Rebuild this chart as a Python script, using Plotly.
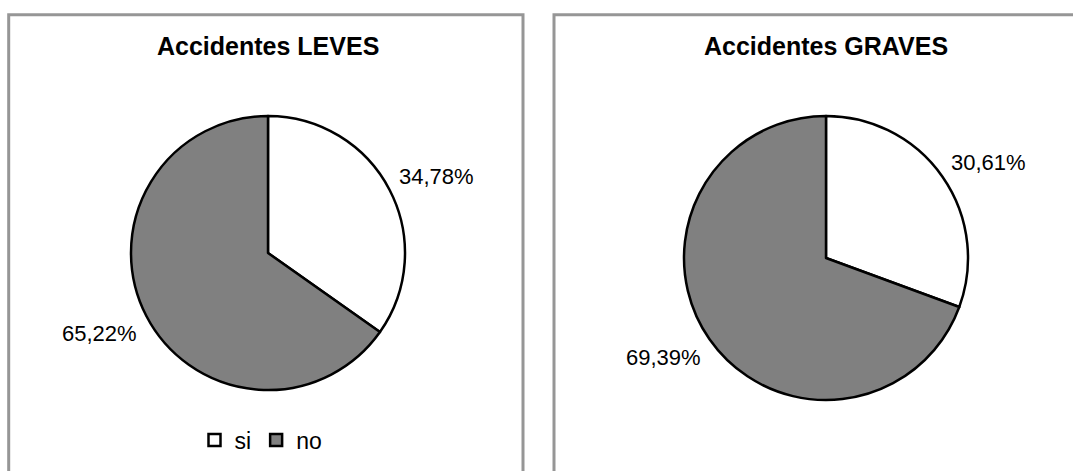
import math
import plotly.graph_objects as go

W, H = 1073, 471

labels = ["si", "no"]
leves_pct = [34.78, 65.22]
graves_pct = [30.61, 69.39]
titles = ["Accidentes LEVES", "Accidentes GRAVES"]
colors = ["#FFFFFF", "#808080"]

FONT = "Liberation Sans, Arial, sans-serif"


def px_x(v):
    return v / W


def px_y(v):
    return 1 - v / H


fig = go.Figure()

# pie geometry (pixel boxes)
boxes = [
    dict(x0=131, x1=405, y0=116, y1=390, legx=261, legy=440, leg="legend"),
    dict(x0=684, x1=968, y0=116, y1=400, legx=817, legy=431, leg="legend2"),
]

annotations = []
for vals, b, t in zip([leves_pct, graves_pct], boxes, titles):
    fig.add_trace(go.Pie(
        labels=labels,
        values=vals,
        sort=False,
        direction="clockwise",
        rotation=0,
        marker=dict(colors=colors, line=dict(color="#000000", width=2.5)),
        textinfo="none",
        domain=dict(x=[px_x(b["x0"]), px_x(b["x1"])], y=[px_y(b["y1"]), px_y(b["y0"])]),
        automargin=False,
        showlegend=True,
        legend=b["leg"],
        hoverinfo="label+percent",
    ))
    # outside percentage labels placed at each slice's mid-angle (Excel style)
    cx = (b["x0"] + b["x1"]) / 2
    cy = (b["y0"] + b["y1"]) / 2
    r = (b["x1"] - b["x0"]) / 2
    total = sum(vals)
    cum = 0.0
    for v in vals:
        mid = (cum + v / 2) / total * 2 * math.pi
        cum += v
        ux, uy = math.sin(mid), -math.cos(mid)
        d = r + 9
        ax = cx + ux * d
        ay = cy + uy * d
        txt = ("%.2f%%" % (v / total * 100)).replace(".", ",")
        annotations.append(dict(
            text=txt, x=px_x(ax), y=px_y(ay), xref="paper", yref="paper",
            xanchor="left" if ux >= 0 else "right",
            yanchor="bottom" if uy < 0 else "top",
            yshift=-4 if uy < 0 else 0,
            showarrow=False, borderpad=0,
            font=dict(family=FONT, size=22, color="#000000"),
        ))

for b, t in zip(boxes, titles):
    annotations.append(dict(
        text="<b>" + t + "</b>", x=px_x((b["x0"] + b["x1"]) / 2), y=px_y(46),
        xref="paper", yref="paper", xanchor="center", yanchor="middle",
        showarrow=False, font=dict(family=FONT, size=25, color="#000000"),
    ))

border = dict(color="#969696", width=3)
shapes = [
    dict(type="rect", xref="paper", yref="paper",
         x0=px_x(8.7), x1=px_x(523), y0=px_y(14.7), y1=-0.1, line=border),
    dict(type="rect", xref="paper", yref="paper",
         x0=px_x(554), x1=px_x(1090), y0=px_y(14.7), y1=-0.1, line=border),
]

leg_common = dict(orientation="h", xanchor="center", yanchor="middle",
                  font=dict(family=FONT, size=23, color="#000000"),
                  bgcolor="rgba(0,0,0,0)", itemwidth=30, tracegroupgap=0)

fig.update_layout(
    width=W, height=H,
    margin=dict(l=0, r=0, t=0, b=0),
    paper_bgcolor="#FFFFFF",
    plot_bgcolor="#FFFFFF",
    separators=",.",
    annotations=annotations,
    shapes=shapes,
    legend=dict(x=px_x(boxes[0]["legx"]), y=px_y(boxes[0]["legy"]), **leg_common),
    legend2=dict(x=px_x(boxes[1]["legx"]), y=px_y(boxes[1]["legy"]), **leg_common),
    font=dict(family=FONT, color="#000000"),
)

fig.write_html("out.html")
